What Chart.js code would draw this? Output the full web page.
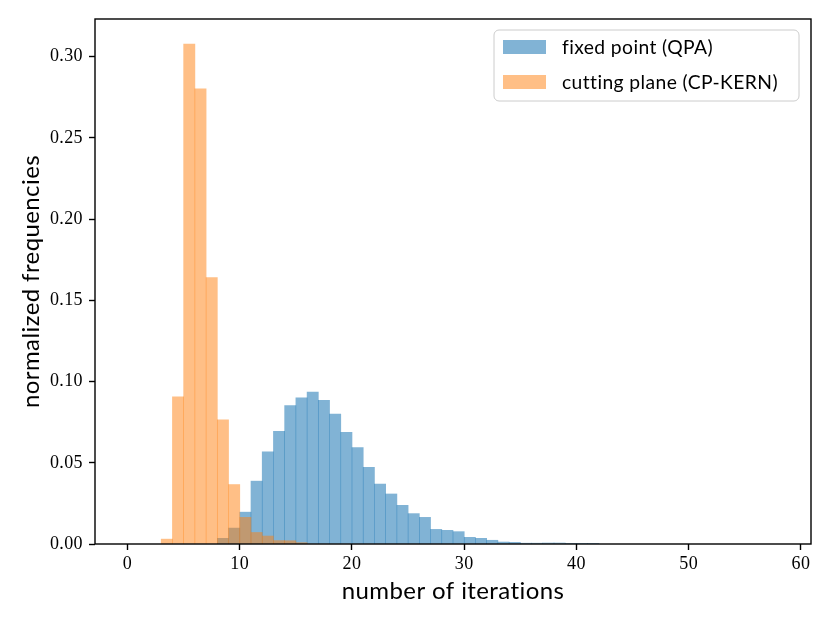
<!DOCTYPE html>
<html>
<head>
<meta charset="utf-8">
<script src="https://cdn.jsdelivr.net/npm/chart.js@4.4.1/dist/chart.umd.min.js"></script>
<style>
  html, body { margin: 0; padding: 0; background: #ffffff; }
  #wrap { width: 830px; height: 623px; }
</style>
</head>
<body>
<div id="wrap"><canvas id="c" width="830" height="623"></canvas></div>
<script>
// ---- data (bin left edges, width 1) ----
const blueLabel = 'fixed point (QPA)';
const orangeLabel = 'cutting plane (CP-KERN)';
const blueBins = [8, 9, 10, 11, 12, 13, 14, 15, 16, 17, 18, 19, 20, 21, 22, 23, 24, 25, 26, 27, 28, 29, 30, 31, 32, 33, 34, 35, 36, 37, 38, 39, 40, 41];
const blueFreq = [0.0035, 0.0098, 0.0196, 0.0387, 0.0567, 0.0693, 0.0852, 0.0900, 0.0935, 0.0884, 0.0800, 0.0688, 0.0593, 0.0472, 0.0369, 0.0308, 0.0238, 0.0187, 0.0164, 0.0090, 0.0084, 0.0076, 0.0041, 0.0035, 0.0023, 0.0012, 0.0010, 0.0005, 0.0005, 0.0006, 0.0006, 0.0002, 0.0001, 0.0001];
const orangeBins = [3, 4, 5, 6, 7, 8, 9, 10, 11, 12, 13, 14, 15];
const orangeFreq = [0.0030, 0.0906, 0.3078, 0.2802, 0.1640, 0.0764, 0.0366, 0.0164, 0.0071, 0.0049, 0.0021, 0.0020, 0.0008];
const xTicks = [0, 10, 20, 30, 40, 50, 60];
const yTicks = [0.00, 0.05, 0.10, 0.15, 0.20, 0.25, 0.30];
const xTitle = 'number of iterations';
const yTitle = 'normalized frequencies';

const blueColor = 'rgba(31,119,180,0.56)';
const orangeColor = 'rgba(255,127,14,0.5)';
const sansFont = 'Lato';
const serifFont = 'Liberation Serif';

function toPoints(bins, vals) {
  return bins.map((b, i) => ({ x: b + 0.5, y: vals[i] }));
}

const noLigatures = {
  id: 'noLigatures',
  beforeDraw(chart) {
    if ('letterSpacing' in chart.ctx) chart.ctx.letterSpacing = '0.4px';
  }
};

const frameAndLegend = {
  id: 'frameAndLegend',
  afterDatasetsDraw(chart) {
    const { ctx, chartArea: a } = chart;
    ctx.save();
    ctx.strokeStyle = '#000';
    ctx.lineWidth = 1.4;
    ctx.strokeRect(a.left, a.top, a.right - a.left, a.bottom - a.top);
    // legend box inside the plot area, upper right
    const lx = a.right - 317, ly = a.top + 11, lw = 305, lh = 71, r = 5;
    ctx.beginPath();
    ctx.moveTo(lx + r, ly);
    ctx.lineTo(lx + lw - r, ly);
    ctx.arcTo(lx + lw, ly, lx + lw, ly + r, r);
    ctx.lineTo(lx + lw, ly + lh - r);
    ctx.arcTo(lx + lw, ly + lh, lx + lw - r, ly + lh, r);
    ctx.lineTo(lx + r, ly + lh);
    ctx.arcTo(lx, ly + lh, lx, ly + lh - r, r);
    ctx.lineTo(lx, ly + r);
    ctx.arcTo(lx, ly, lx + r, ly, r);
    ctx.closePath();
    ctx.fillStyle = 'rgba(255,255,255,0.8)';
    ctx.fill();
    ctx.strokeStyle = '#cccccc';
    ctx.lineWidth = 1;
    ctx.stroke();
    const ds = chart.data.datasets;
    ctx.font = '19.3px ' + sansFont;
    ctx.textBaseline = 'middle';
    ctx.textAlign = 'left';
    ds.forEach((d, i) => {
      const cy = ly + 17 + i * 35;
      ctx.fillStyle = d.backgroundColor;
      ctx.fillRect(lx + 9, cy - 7, 43, 14);
      ctx.fillStyle = '#000';
      ctx.fillText(d.label, lx + 68, cy + 1);
    });
    ctx.restore();
  }
};

new Chart(document.getElementById('c'), {
  type: 'bar',
  data: {
    datasets: [
      { label: blueLabel, data: toPoints(blueBins, blueFreq), backgroundColor: blueColor, borderWidth: 0, order: 1 },
      { label: orangeLabel, data: toPoints(orangeBins, orangeFreq), backgroundColor: orangeColor, borderWidth: 0, order: 0 }
    ]
  },
  options: {
    responsive: false,
    animation: false,
    layout: { padding: { left: 0, top: 19, right: 19, bottom: 0 } },
    datasets: { bar: { grouped: false, barPercentage: 1.0, categoryPercentage: 1.0 } },
    plugins: { legend: { display: false }, tooltip: { enabled: false } },
    scales: {
      x: {
        type: 'linear',
        min: -2.9,
        max: 60.9,
        offset: false,
        afterBuildTicks(axis) { axis.ticks = xTicks.map(v => ({ value: v })); },
        afterFit(axis) { axis.height = 79; },
        grid: { display: true, offset: false, drawOnChartArea: false, drawTicks: true, tickLength: 6, tickWidth: 1.4, tickColor: '#000' },
        border: { display: false },
        ticks: { color: '#000', padding: 3, maxRotation: 0, font: { family: serifFont, size: 18 }, callback: v => String(v) },
        title: { display: true, text: xTitle, color: '#000', font: { family: sansFont, size: 24 }, padding: { top: 0, bottom: 17 } }
      },
      y: {
        min: 0,
        max: 0.3232,
        afterBuildTicks(axis) { axis.ticks = yTicks.map(v => ({ value: v })); },
        afterFit(axis) { axis.width = 95; },
        grid: { display: true, offset: false, drawOnChartArea: false, drawTicks: true, tickLength: 6, tickWidth: 1.4, tickColor: '#000' },
        border: { display: false },
        ticks: { color: '#000', padding: 6, font: { family: serifFont, size: 18 }, callback: v => Number(v).toFixed(2) },
        title: { display: true, text: yTitle, color: '#000', font: { family: sansFont, size: 24 }, padding: { top: 17, bottom: 0 } }
      }
    }
  },
  plugins: [noLigatures, frameAndLegend]
});
</script>
</body>
</html>
